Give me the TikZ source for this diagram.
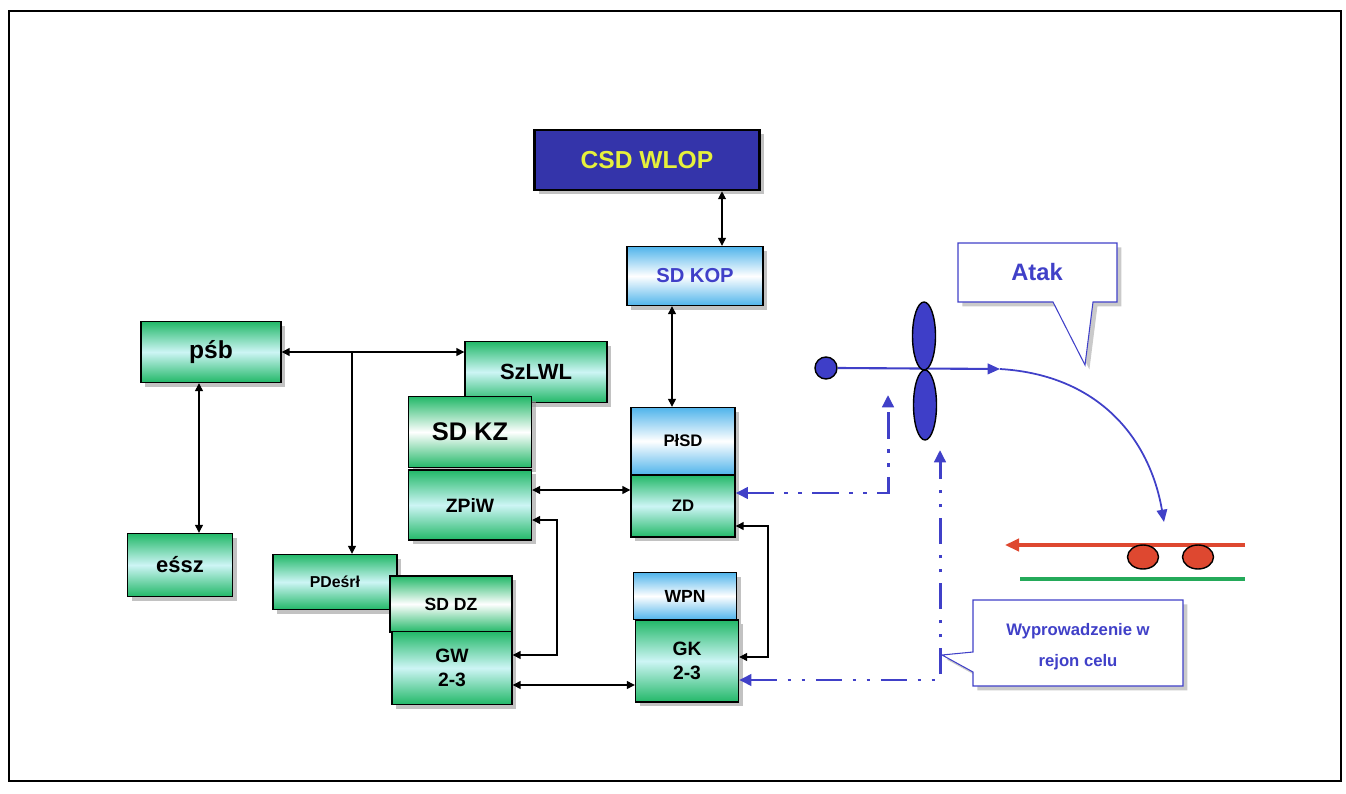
\documentclass[tikz,border=0pt]{standalone}
\usepackage{fontspec}
\setmainfont{Liberation Sans}
\usetikzlibrary{arrows.meta, shadows, shapes.geometric}

\definecolor{boxgreen}{RGB}{34,184,104}
\definecolor{boxcyan}{RGB}{205,245,245}
\definecolor{boxblue}{RGB}{80,180,235}
\definecolor{navy}{RGB}{52,52,170}
\definecolor{lemon}{RGB}{230,240,60}
\definecolor{ink}{RGB}{64,64,200}
\definecolor{fanblue}{RGB}{62,62,200}
\definecolor{trainred}{RGB}{222,72,48}
\definecolor{railgreen}{RGB}{36,170,90}

\tikzset{
  box/.style={draw=black, line width=0.8pt, inner sep=0pt, align=center, font=\bfseries,
    drop shadow={shadow xshift=2.5pt, shadow yshift=-2.5pt, fill=black!40, opacity=0.6}},
  gbox/.style={box, top color=boxgreen, bottom color=boxgreen, middle color=boxcyan},
  wbox/.style={box, top color=boxgreen, bottom color=boxgreen, middle color=white},
  bbox/.style={box, top color=boxblue, bottom color=boxblue, middle color=white},
  link/.style={{Triangle[length=4.5pt,width=4.5pt]}-{Triangle[length=4.5pt,width=4.5pt]}, line width=0.7pt},
  feed/.style={-{Triangle[length=4.5pt,width=4.5pt]}, line width=0.7pt},
  plan/.style={draw=ink, line width=1.7pt, dash pattern=on 15pt off 6pt on 2pt off 6pt on 2pt off 6pt,
    {Triangle[length=7pt,width=6.5pt]}-{Triangle[length=7pt,width=6.5pt]}},
  callout/.style={draw=ink, fill=white, line width=0.6pt,
    drop shadow={shadow xshift=2.5pt, shadow yshift=-2.5pt, fill=black!35, opacity=0.6}},
  say/.style={text=ink, font=\bfseries, align=center, inner sep=0pt}
}

\begin{document}
\begin{tikzpicture}[x=0.02cm, y=-0.02cm]
\useasboundingbox (0,0) rectangle (1346,794);
\draw[line width=1.4pt] (9,11) rectangle (1341,781);

% command chain
\node[box, fill=navy, line width=1.5pt, text=lemon, minimum width=4.5cm, minimum height=1.2cm,
  font=\bfseries\fontsize{14}{17}\selectfont] (csd) at (647,160) {CSD WLOP};
\node[bbox, text=ink, minimum width=2.72cm, minimum height=1.18cm,
  font=\bfseries\fontsize{11.5}{14}\selectfont] (sdkop) at (695,276) {SD KOP};

% left group
\node[gbox, minimum width=2.8cm, minimum height=1.22cm, font=\bfseries\fontsize{14}{17}\selectfont] (psb) at (211,352) {pśb};
\node[gbox, minimum width=2.84cm, minimum height=1.22cm, font=\bfseries\fontsize{12.5}{15}\selectfont] (szlwl) at (536,372) {SzLWL};
\node[wbox, minimum width=2.46cm, minimum height=1.42cm, font=\bfseries\fontsize{14.5}{17}\selectfont] (sdkz) at (470,432) {SD KZ};
\node[gbox, minimum width=2.46cm, minimum height=1.4cm, font=\bfseries\fontsize{11}{14}\selectfont] (zpiw) at (470,505) {ZPiW};
\node[gbox, minimum width=2.1cm, minimum height=1.26cm, font=\bfseries\fontsize{12.5}{15}\selectfont] (essz) at (180,565) {eśsz};
\node[gbox, minimum width=2.48cm, minimum height=1.1cm, font=\bfseries\fontsize{9}{11}\selectfont] (pdesrl) at (335,582) {PDeśrł};
\node[wbox, minimum width=2.44cm, minimum height=1.12cm, font=\bfseries\fontsize{10}{12}\selectfont] (sddz) at (451,604) {SD DZ};
\node[gbox, minimum width=2.4cm, minimum height=1.46cm, font=\bfseries\fontsize{11}{14}\selectfont] (gw) at (452,668) {GW\\2-3};

% right group
\node[bbox, minimum width=2.08cm, minimum height=1.34cm, font=\bfseries\fontsize{9.5}{12}\selectfont] (plsd) at (683,441) {PłSD};
\node[gbox, minimum width=2.08cm, minimum height=1.24cm, font=\bfseries\fontsize{9.5}{12}\selectfont] (zd) at (683,506) {ZD};
\node[bbox, minimum width=2.06cm, minimum height=0.94cm, font=\bfseries\fontsize{10}{12}\selectfont] (wpn) at (685,596) {WPN};
\node[gbox, minimum width=2.06cm, minimum height=1.64cm, font=\bfseries\fontsize{11}{14}\selectfont] (gk) at (687,661) {GK\\2-3};

% links
\draw[link] (csd.south -| 722,0) -- (sdkop.north -| 722,0);
\draw[link] (sdkop.south -| 672,0) -- (plsd.north -| 672,0);
\draw[link] (psb.east) -- (szlwl.west |- psb.east);
\coordinate (fork) at (352,352);
\draw[feed] (fork) -- (fork |- pdesrl.north);
\draw[link] (psb.south -| 199,0) -- (essz.north -| 199,0);
\draw[link] (zpiw.east |- 0,490) -- (zd.west |- 0,490);
\draw[link] (gw.east |- 0,685) -- (gk.west |- 0,685);
\draw[link] (zpiw.east |- 0,520) -| (557,655) -- (gw.east |- 0,655);
\draw[link] (zd.east |- 0,526) -| (768,657) -- (gk.east |- 0,657);

% guidance
\coordinate (upA) at (888,395);
\coordinate (upB) at (940,450);
\draw[plan] (zd.east |- 0,493) -| (upA);
\draw[plan] (gk.east |- 0,680) -| (upB);

% interceptor and target
\node[circle, draw=black, fill=fanblue, line width=0.8pt, minimum size=0.44cm, inner sep=0pt] (tgt) at (826,368) {};
\coordinate (turn) at (1000,369);
\coordinate (hit) at (1164,522);
\draw[ink, line width=1.2pt, -{Triangle[length=7pt,width=6pt]}] (tgt.east) -- (turn);
\draw[ink, line width=1pt, -{Triangle[length=7pt,width=6pt]}] (turn) .. controls (1100,375) and (1150,440) .. (hit);
\node[ellipse, draw=black, fill=fanblue, line width=0.8pt, minimum width=0.46cm, minimum height=1.36cm, inner sep=0pt] (fanup) at (924,336) {};
\node[ellipse, draw=black, fill=fanblue, line width=0.8pt, minimum width=0.46cm, minimum height=1.4cm, inner sep=0pt] (fandown) at (925,405) {};

% column on the road
\coordinate (roadR) at (1245,545);
\coordinate (roadL) at (1005,545);
\draw[trainred, line width=2.2pt, -{Triangle[length=8pt,width=7pt]}] (roadR) -- (roadL);
\draw[railgreen, line width=1.8pt] (1020,579) -- (1245,579);
\node[ellipse, draw=black, fill=trainred, line width=0.8pt, minimum width=0.62cm, minimum height=0.48cm, inner sep=0pt] (car1) at (1143,557) {};
\node[ellipse, draw=black, fill=trainred, line width=0.8pt, minimum width=0.62cm, minimum height=0.48cm, inner sep=0pt] (car2) at (1198,557) {};

% callouts
\draw[callout] (958,243) -- (1117,243) -- (1117,302) -- (1093,302) -- (1085,365) -- (1053,302) -- (958,302) -- cycle;
\node[say, font=\bfseries\fontsize{13.5}{16}\selectfont] (atak) at (1037,272) {Atak};
\draw[callout] (973,600) -- (1183,600) -- (1183,686) -- (973,686) -- (973,672) -- (942,655) -- (973,652) -- cycle;
\node[say, font=\bfseries\fontsize{9.5}{17.5}\selectfont] (wypr) at (1078,647) {Wyprowadzenie w\\rejon celu};
\end{tikzpicture}
\end{document}
